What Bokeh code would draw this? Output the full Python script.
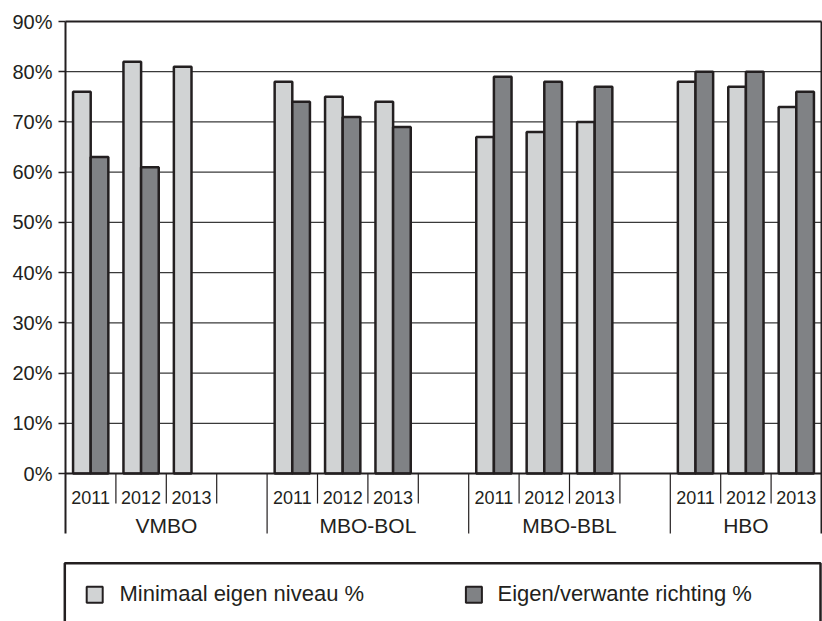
from bokeh.plotting import figure
from bokeh.models import Range1d, FixedTicker
from bokeh.core.properties import value
from bokeh.embed import file_html
from bokeh.resources import INLINE

# ---------------- data ----------------
groups = ["VMBO", "MBO-BOL", "MBO-BBL", "HBO"]
years = ["2011", "2012", "2013"]
slots_per_group = [4, 4, 4, 3]          # trailing empty slot in first three groups
minimaal = [[76, 82, 81], [78, 75, 74], [67, 68, 70], [78, 77, 73]]
verwant = [[63, 61, None], [74, 71, 69], [79, 78, 77], [80, 80, 76]]
series_names = ["Minimaal eigen niveau %", "Eigen/verwante richting %"]
y_ticks = [0, 10, 20, 30, 40, 50, 60, 70, 80, 90]

# ---------------- style ----------------
LIGHT = "#d1d3d4"
DARK = "#808285"
INK = "#231f20"
GRID = "#3a3a3a"
FONT = "Liberation Sans"

W, H = 822, 621
LEFT_PANEL = 58       # px for y labels
TOP_MARGIN = 19
SLOT_PX = 50.4        # px per category slot
X0_PX = 7             # px from frame left to x = 0
PX = 452 / 90         # px per percent
TOP_GAP = 2           # px from frame top to the 90% line

FW = W - LEFT_PANEL
FH = H - TOP_MARGIN
n_slots = sum(slots_per_group)

x_start = -X0_PX / SLOT_PX
x_end = (FW - X0_PX) / SLOT_PX
y_end = y_ticks[-1] + TOP_GAP / PX
y_start = y_end - FH / PX

def dy(px_below_zero):
    """convert px below the 0% line to data units"""
    return -px_below_zero / PX

def dx(px_from_axis):
    return px_from_axis / SLOT_PX

p = figure(width=W, height=H, output_backend="svg", toolbar_location=None,
           x_range=Range1d(x_start, x_end), y_range=Range1d(y_start, y_end),
           x_axis_location=None, min_border_left=LEFT_PANEL, min_border_right=0,
           min_border_top=TOP_MARGIN, min_border_bottom=0)
p.outline_line_color = None
p.xgrid.visible = False
p.ygrid.visible = False
p.background_fill_color = "white"
p.border_fill_color = "white"

ax = p.yaxis[0]
ax.ticker = FixedTicker(ticks=y_ticks)
ax.major_label_overrides = {t: f"{t}%" for t in y_ticks}
ax.axis_line_color = None
ax.major_tick_in = X0_PX
ax.major_tick_out = 0
ax.minor_tick_line_color = None
ax.major_tick_line_color = INK
ax.major_tick_line_width = 1.5
ax.major_label_standoff = 6
ax.major_label_text_font = FONT
ax.major_label_text_font_size = "20px"
ax.major_label_text_color = INK

# slot geometry
group_start = []
s = 0
for n in slots_per_group:
    group_start.append(s)
    s += n

# gridlines
grid_vals = y_ticks[1:-1]
p.segment(x0=[0] * len(grid_vals), x1=[n_slots] * len(grid_vals), y0=grid_vals, y1=grid_vals,
          line_color=GRID, line_width=1.3)

# bars
BW = 0.35
lx, lt, vx, vt = [], [], [], []
for gi, g in enumerate(groups):
    for yi, yr in enumerate(years):
        c = group_start[gi] + yi + 0.5
        if minimaal[gi][yi] is not None:
            lx.append(c - BW / 2); lt.append(minimaal[gi][yi])
        if verwant[gi][yi] is not None:
            vx.append(c + BW / 2); vt.append(verwant[gi][yi])
p.vbar(x=lx, top=lt, bottom=0, width=BW, fill_color=LIGHT, line_color=INK, line_width=2.5)
p.vbar(x=vx, top=vt, bottom=0, width=BW, fill_color=DARK, line_color=INK, line_width=2.5)

# frame lines: 0 and 90
p.segment(x0=[0, 0], x1=[n_slots, n_slots], y0=[0, y_ticks[-1]], y1=[0, y_ticks[-1]],
          line_color=INK, line_width=2)

# left/right frame + group separators
gb = group_start + [n_slots]
p.segment(x0=gb, x1=gb, y0=[y_ticks[-1] if b in (0, n_slots) else 0 for b in gb],
          y1=[dy(60)] * len(gb), line_color=INK, line_width=[2 if b in (0, n_slots) else 1.2 for b in gb])

# year separators
ysep = []
for gi, n in enumerate(slots_per_group):
    for k in range(1, n):
        ysep.append(group_start[gi] + k)
p.segment(x0=ysep, x1=ysep, y0=[0] * len(ysep), y1=[dy(30)] * len(ysep),
          line_color=INK, line_width=1.2)

# year labels
yl_x, yl_t = [], []
for gi in range(len(groups)):
    for yi, yr in enumerate(years):
        yl_x.append(group_start[gi] + yi + 0.5); yl_t.append(yr)
p.text(x=yl_x, y=[dy(24)] * len(yl_x), text=yl_t, text_align="center", text_baseline="middle",
       text_font=value(FONT), text_font_size="18px", text_color=INK)

# group labels
gl_x = [group_start[i] + slots_per_group[i] / 2 for i in range(len(groups))]
p.text(x=gl_x, y=[dy(52)] * len(gl_x), text=groups, text_align="center", text_baseline="middle",
       text_font=value(FONT), text_font_size="21px", text_color=INK)

# legend box (bottom runs past the page edge)
p.quad(left=[dx(-0.7)], right=[dx(755)], top=[dy(89.7)], bottom=[y_start - 5],
       fill_color=None, line_color=INK, line_width=2.5)
p.rect(x=[dx(29.2), dx(408.4)], y=[dy(121.2)] * 2, width=16, height=16,
       width_units="screen", height_units="screen",
       fill_color=[LIGHT, DARK], line_color=INK, line_width=2)
p.text(x=[dx(54), dx(432)], y=[dy(120)] * 2, text=series_names, text_align="left",
       text_baseline="middle", text_font=value(FONT), text_font_size="22px", text_color=INK)

open("out.html", "w").write(file_html(p, INLINE))
